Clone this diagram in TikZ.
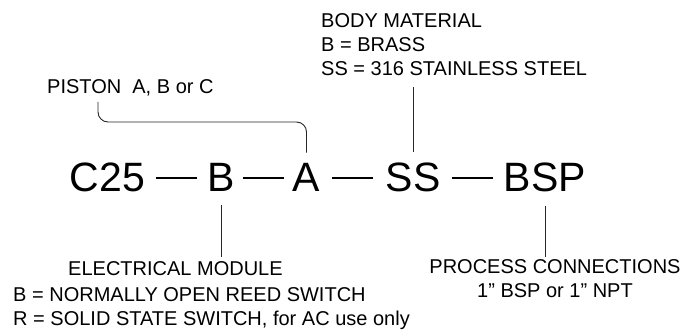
\documentclass[tikz,border=0pt]{standalone}
\usepackage{fontspec}
\setmainfont{Liberation Sans}
\usetikzlibrary{calc}
\tikzset{
  codepart/.style={font=\fontsize{41}{48}\selectfont, inner sep=0pt, anchor=base},
  labeltext/.style={font=\fontsize{20}{24}\selectfont, inner sep=0pt, anchor=base west},
  leader/.style={draw=black!85, line width=0.9pt},
  codedash/.style={draw=black, line width=2pt},
}

\begin{document}
\begin{tikzpicture}[x=1pt, y=-1pt]
    \useasboundingbox (0,0) rectangle (688,331);
    % order code
    \node[codepart] (c25) at (107.5,192) {C25};
    \node[codepart] (b) at (221,192) {B};
    \node[codepart] (a) at (306.5,192) {A};
    \node[codepart] (ss) at (413,192) {SS};
    \node[codepart] (bsp) at (545,192) {BSP};
    \foreach \l/\r in {c25/b, b/a, a/ss, ss/bsp}
      \draw[codedash] ($(\l.east)!0.5!(\r.west)$) +(-20.5,0) -- +(20.5,0);
    % labels above
    \node[labeltext] (piston) at (47,94) {PISTON\ \ A, B or C};
    \node[labeltext] (body1) at (321,28) {BODY MATERIAL};
    \node[labeltext] (body2) at (321,52) {B = BRASS};
    \node[labeltext] (body3) at (321,76) {SS = 316 STAINLESS STEEL};
    % labels below
    \node[labeltext] (elec1) at (68,276) {ELECTRICAL MODULE};
    \node[labeltext] (elec2) at (13,301) {B = NORMALLY OPEN REED SWITCH};
    \node[labeltext] (elec3) at (13,325) {R = SOLID STATE SWITCH, for AC use only};
    \node[labeltext, anchor=base] (proc1) at (555,273) {PROCESS CONNECTIONS};
    \node[labeltext, anchor=base] (proc2) at (555,297) {1” BSP or 1” NPT};
    % leaders
    \coordinate (pistonbend) at (98,122);
    \draw[leader, rounded corners=10pt] ([yshift=11pt]a.north) |- (pistonbend)
      -- ([yshift=-8pt]piston.base -| pistonbend);
    \draw[leader] ([yshift=11pt]ss.north) -- ([yshift=-11pt]body3.base -| ss.north);
    \draw[leader] ([yshift=-13pt]b.south) -- ([yshift=19pt]elec1.base -| b.south);
    \draw[leader] ([yshift=-13pt]bsp.south) -- ([yshift=16pt]proc1.base -| bsp.south);
\end{tikzpicture}
\end{document}
